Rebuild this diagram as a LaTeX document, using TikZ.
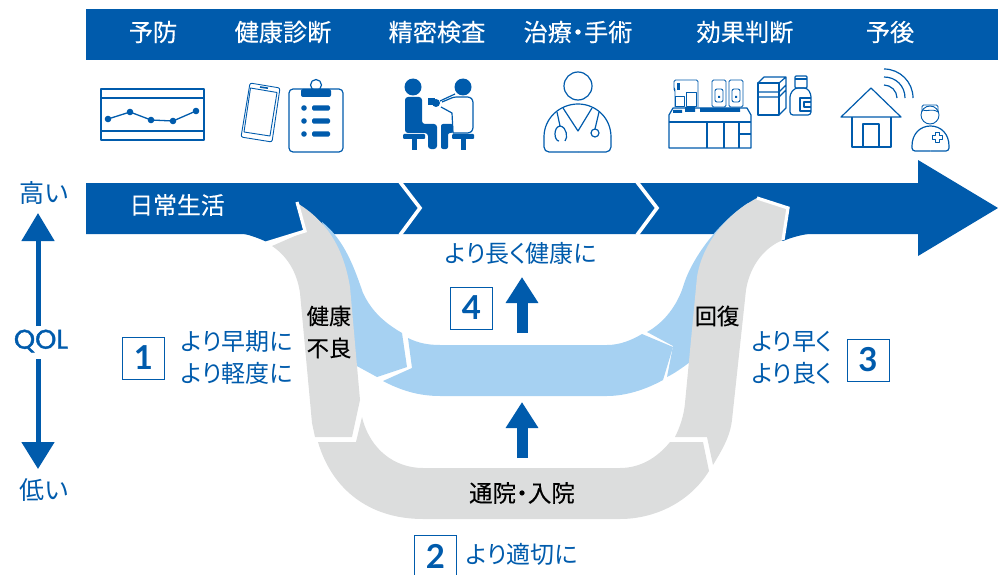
\documentclass[tikz,border=0pt]{standalone}
\usepackage{fontspec}
\usetikzlibrary{arrows.meta}
\setmainfont{Noto Sans CJK JP}[RawFeature={+palt}]
\newfontfamily\medcjk{Noto Sans CJK JP}[RawFeature={+palt},FakeBold=0.25]
\newfontfamily\digitfont{Lato}[BoldFont=* Bold]
\newfontfamily\qolfont{Poppins}[FakeBold=1.5]
\definecolor{mainblue}{HTML}{005BAC}
\definecolor{lightblue}{HTML}{A6D1F2}
\definecolor{bandgray}{HTML}{DCDDDD}
\tikzset{
  x=1pt,y=-1pt,
  head/.style={text=white,font=\medcjk\fontsize{24.2}{26}\selectfont,inner sep=0pt},
  bluetxt/.style={text=mainblue,font=\fontsize{24}{26}\selectfont,inner sep=0pt},
  blacktxt/.style={text=black,font=\medcjk\fontsize{22.3}{24}\selectfont,inner sep=0pt},
  numbox/.style={draw=mainblue,line width=1pt,fill=white,minimum width=42pt,minimum height=42pt,inner sep=0pt,text=mainblue,font=\digitfont\bfseries\fontsize{33}{34}\selectfont},
  icon/.style={draw=mainblue,line width=1.2pt,line join=round},
  iconthin/.style={draw=mainblue,line width=0.9pt,line join=round},
  gap/.style={draw=white,line width=3.6pt,line join=miter,miter limit=10},
}
\begin{document}
\begin{tikzpicture}
\useasboundingbox (0,0) rectangle (998,575);
% header
\fill[mainblue] (86,9) rectangle (998,60);
\node[head] (h1) at (153,32) {予防};
\node[head] (h2) at (283,32) {健康診断};
\node[head] (h3) at (437,32) {精密検査};
\node[head] (h4) at (578,32) {治療・手術};
\node[head] (h5) at (745,32) {効果判断};
\node[head] (h6) at (890,32) {予後};
% main arrow
\fill[mainblue] (86,183) -- (918,183) -- (918,160) -- (998,208) -- (918,256) -- (918,234) -- (86,234) -- cycle;
\fill[mainblue] (238,233) .. controls (248,234) and (258,238) .. (267,242) -- (306,231) -- (306,233) -- cycle;
\fill[mainblue] (815,233) .. controls (806,234) and (795,236) .. (783,241) -- (770,233) -- cycle;
\draw[gap] (400,182) -- (420,208) -- (400,235);
\draw[gap] (637,182) -- (657,208) -- (637,235);
\node[text=white,font=\medcjk\fontsize{23.8}{26}\selectfont,inner sep=0pt] (daily) at (177,205) {日常生活};
% light band
\fill[lightblue] (322,222) .. controls (345,240) and (355,270) .. (363,293)
  .. controls (372,312) and (385,323) .. (402,333) -- (407,367) -- (377,377) -- (355,365) -- cycle;
\fill[lightblue] (408,338) .. controls (418,343) and (428,345) .. (440,345) -- (607,345)
  .. controls (620,345) and (632,340) .. (642,334) -- (673,347) -- (663,380)
  .. controls (645,390) and (625,396) .. (607,396) -- (440,396)
  .. controls (418,396) and (400,390) .. (383,381) -- (412,368) -- cycle;
\fill[lightblue] (647,332) .. controls (665,322) and (677,305) .. (683,287)
  .. controls (690,262) and (715,225) .. (748,203) -- (720,300) -- (690,362)
  .. controls (682,368) and (675,373) .. (667,377) -- (673,346) -- cycle;
% gray segments
\fill[bandgray] (297,203) .. controls (325,220) and (343,245) .. (350,287)
  -- (360,400) -- (352,437) -- (315,437) -- (312,423) -- (300,293)
  .. controls (297,272) and (287,256) .. (272,246) -- (304,232) -- cycle;
\fill[bandgray] (318,442) -- (356,442) -- (362,417)
  .. controls (370,450) and (395,468) .. (423,468) -- (620,468)
  .. controls (640,468) and (657,458) .. (670,442) -- (703,442) -- (709,471)
  .. controls (690,502) and (655,519) .. (620,519) -- (423,519)
  .. controls (370,519) and (332,490) .. (318,442) -- cycle;
\fill[bandgray] (675,437) -- (707,437) -- (713,465) .. controls (722,450) and (730,437) .. (732,420)
  -- (746,290) .. controls (750,265) and (765,247) .. (783,240) -- (788,208) -- (757,198)
  .. controls (725,215) and (702,245) .. (697,277) -- (685,403) .. controls (684,415) and (680,427) .. (675,437) -- cycle;
% white outlines of tails
\draw[gap,line width=3.2pt] (266,243) -- (305,231) -- (297,202);
\draw[gap,line width=3.2pt] (783,240) -- (788,208) -- (757,198);
% labels in bands
\node[blacktxt] (l1) at (329,316) {健康};
\node[blacktxt] (l2) at (329,348) {不良};
\node[blacktxt] (l3) at (717,316) {回復};
\node[blacktxt,font=\medcjk\fontsize{23.5}{24}\selectfont] (l4) at (522,493) {通院・入院};
% blue texts
\node[bluetxt] (t1a) at (237,342) {より早期に};
\node[bluetxt] (t1b) at (237,373) {より軽度に};
\node[bluetxt] (t3a) at (792,342) {より早く};
\node[bluetxt] (t3b) at (792,373) {より良く};
\node[bluetxt] (t4) at (521,253) {より長く健康に};
\node[bluetxt] (t2) at (522,554) {より適切に};
% boxes
\node[numbox] (n1) at (143.5,358) {1};
\node[numbox] (n2) at (435.5,556) {2};
\node[numbox] (n3) at (868,360) {3};
\node[numbox] (n4) at (471.5,308) {4};
% up arrows
\coordinate (a1b) at (522,333); \coordinate (a1t) at (522,277);
\coordinate (a2b) at (522,458); \coordinate (a2t) at (522,402);
\draw[mainblue,line width=11pt,-{Triangle[length=26pt,width=31pt]}] (a1b) -- (a1t);
\draw[mainblue,line width=11pt,-{Triangle[length=26pt,width=31pt]}] (a2b) -- (a2t);
% QOL axis
\node[text=mainblue,font=\fontsize{25}{26}\selectfont,inner sep=0pt] (hi) at (44,193) {高い};
\node[text=mainblue,font=\fontsize{25}{26}\selectfont,inner sep=0pt] (lo) at (44,490) {低い};
\node[text=mainblue,font=\qolfont\fontsize{27}{28}\selectfont,inner sep=0pt] (qol) at (41,341) {QOL};
\coordinate (up) at (38,213); \coordinate (dn) at (38,469);
\coordinate (upb) at (38,326); \coordinate (dnb) at (38,359);
\draw[mainblue,line width=5pt,-{Triangle[length=28pt,width=32pt]}] (upb) -- (up);
\draw[mainblue,line width=5pt,-{Triangle[length=27pt,width=32pt]}] (dnb) -- (dn);
% icon 1 chart
\draw[icon] (101,89) rectangle (204,140);
\draw[icon] (101,98) -- (204,98) (101,131) -- (204,131);
\draw[mainblue,line width=1.3pt] (108,119) -- (130,112) -- (151,120) -- (173,121) -- (196,111);
\foreach \p in {(108,119),(130,112),(151,120),(173,121),(196,111)} \fill[mainblue] \p circle (3.3);
% icon 2 phone, clipboard
\draw[iconthin,rounded corners=2pt] (250,83) -- (280,88) -- (272,142) -- (241,137) -- cycle;
\draw[iconthin] (250.5,88) -- (277,92.5) -- (270,136) -- (244,132) -- cycle;
\draw[iconthin,line width=1.6pt] (260,87) -- (268,88.2);
\draw[icon,rounded corners=4pt] (289,89) rectangle (343,152);
\draw[icon] (316,85) circle (5.5);
\fill[mainblue,rounded corners=2pt] (301,89) rectangle (331,97);
\foreach \yy in {108,121,134} {
  \fill[mainblue] (304,\yy) circle (2.8);
  \fill[mainblue,rounded corners=1.5pt] (312,\yy-2.7) rectangle (330,\yy+2.7);
}
% icon 3 consultation
\fill[mainblue] (413,87) circle (8.5);
\fill[mainblue] (463,87) circle (8.5);
\fill[mainblue,rounded corners=3pt] (405,97) -- (422,97) -- (422,124) -- (437,124) -- (437,149) -- (428,149) -- (428,133) -- (405,133) -- cycle;
\fill[mainblue,rounded corners=1pt] (403,134) rectangle (425,139);
\fill[mainblue] (412,139) rectangle (417,150);
\fill[mainblue,rounded corners=2pt] (441,124) -- (453,124) -- (453,133) -- (448,133) -- (448,149) -- (441,149) -- cycle;
\fill[mainblue,rounded corners=1pt] (452,134) rectangle (474,139);
\fill[mainblue] (461,139) rectangle (466,150);
\draw[icon,rounded corners=2.5pt] (453,133) -- (470,133) -- (473,130) -- (473,100) -- (470,97) -- (454,97) -- (442,102);
\draw[icon] (441,107) -- (452,113) -- (453,133);
\fill[mainblue] (428,98) rectangle (435,105);
\fill[mainblue] (436,103) circle (4);
\draw[mainblue,line width=1.2pt] (440,101) -- (455,94);
% icon 4 doctor
\draw[icon] (578,86) circle (14);
\draw[icon,rounded corners=5pt] (578,152) -- (611,152) -- (611,137);
\draw[icon] (611,137) .. controls (611,118) and (596,104) .. (578,104) .. controls (560,104) and (544,118) .. (544,137);
\draw[icon,rounded corners=5pt] (544,137) -- (544,152) -- (578,152);
\draw[icon] (563,108) -- (578,131) -- (592,108);
\draw[icon] (557,112) -- (560,126) .. controls (553,127) and (554,141) .. (559,141);
\draw[icon] (560,126) .. controls (567,127) and (568,138) .. (565,141);
\draw[icon] (599,112) -- (595,129);
\draw[icon] (595,133) circle (4);
% icon 5 machines
\draw[icon] (669,115) -- (673,108) -- (747,108) -- (751,115) -- (751,148) -- (669,148) -- cycle;
\draw[icon] (669,122) -- (751,122) (707,122) -- (707,148) (724,122) -- (724,148) (739,122) -- (739,148) (739,134) -- (751,134);
\fill[mainblue] (685,107) rectangle (695,112) (700,108) rectangle (740,112) (673,110) rectangle (682,113);
\draw[iconthin,rounded corners=1.5pt] (675,107) -- (675,90) -- (674,89) -- (674,80) -- (698,80) -- (698,107);
\draw[iconthin] (675,96) rectangle (684,106) (686,92) rectangle (696,106);
\fill[mainblue] (677,83) rectangle (680,90);
\draw[iconthin,rounded corners=1.5pt] (712,107) rectangle (726,80) (729,107) rectangle (743,80);
\draw[iconthin,rounded corners=2pt] (715,89) rectangle (723,102) (732,89) rectangle (740,102);
\fill[mainblue] (718,96) rectangle (720,98) (735,96) rectangle (737,98);
\draw[icon] (758,83) rectangle (779,115);
\draw[icon] (758,83) -- (764,77) -- (786,77) -- (786,108) -- (779,115) (779,83) -- (786,77) (758,92) -- (779,92) -- (786,85) (758,97) -- (779,97) -- (786,90);
\draw[icon,rounded corners=3pt] (795,88) -- (790,94) -- (790,115) -- (811,115) -- (811,94) -- (807,88) -- cycle;
\draw[icon,rounded corners=1pt] (795,76) rectangle (807,88);
\draw[icon] (795,79) -- (807,79);
\draw[icon] (811,98) -- (800,98) -- (800,111) -- (811,111) (811,102) -- (804,102) -- (804,107) -- (811,107);
% icon 6 house
\draw[icon] (841,117) -- (871,88) -- (901,117) -- cycle;
\draw[icon] (852,117) -- (852,147) -- (891,147) -- (891,117);
\draw[icon] (863,147) -- (863,124) -- (879,124) -- (879,147);
\draw[icon] (884,69) .. controls (900,69) and (913,82) .. (913,98);
\draw[icon] (884,77) .. controls (896,77) and (905,86) .. (905,98);
\draw[icon] (884,85) .. controls (891,85) and (897,91) .. (897,98);
\draw[iconthin] (930,115) circle (9);
\draw[iconthin,rounded corners=1.5pt] (922,112) -- (922,105) -- (938,105) -- (938,112);
\draw[iconthin] (922,110) .. controls (928,112) and (932,108) .. (938,112);
\draw[icon,rounded corners=3pt] (930.5,151) -- (949,151) -- (949,146);
\draw[icon] (949,146) .. controls (949,134) and (941,126) .. (930.5,126) .. controls (920,126) and (912,134) .. (912,146);
\draw[icon,rounded corners=3pt] (912,146) -- (912,151) -- (930.5,151);
\draw[iconthin] (935,132) -- (939,132) -- (939,135) -- (942,135) -- (942,139) -- (939,139) -- (939,142) -- (935,142) -- (935,139) -- (932,139) -- (932,135) -- (935,135) -- cycle;
\end{tikzpicture}
\end{document}
